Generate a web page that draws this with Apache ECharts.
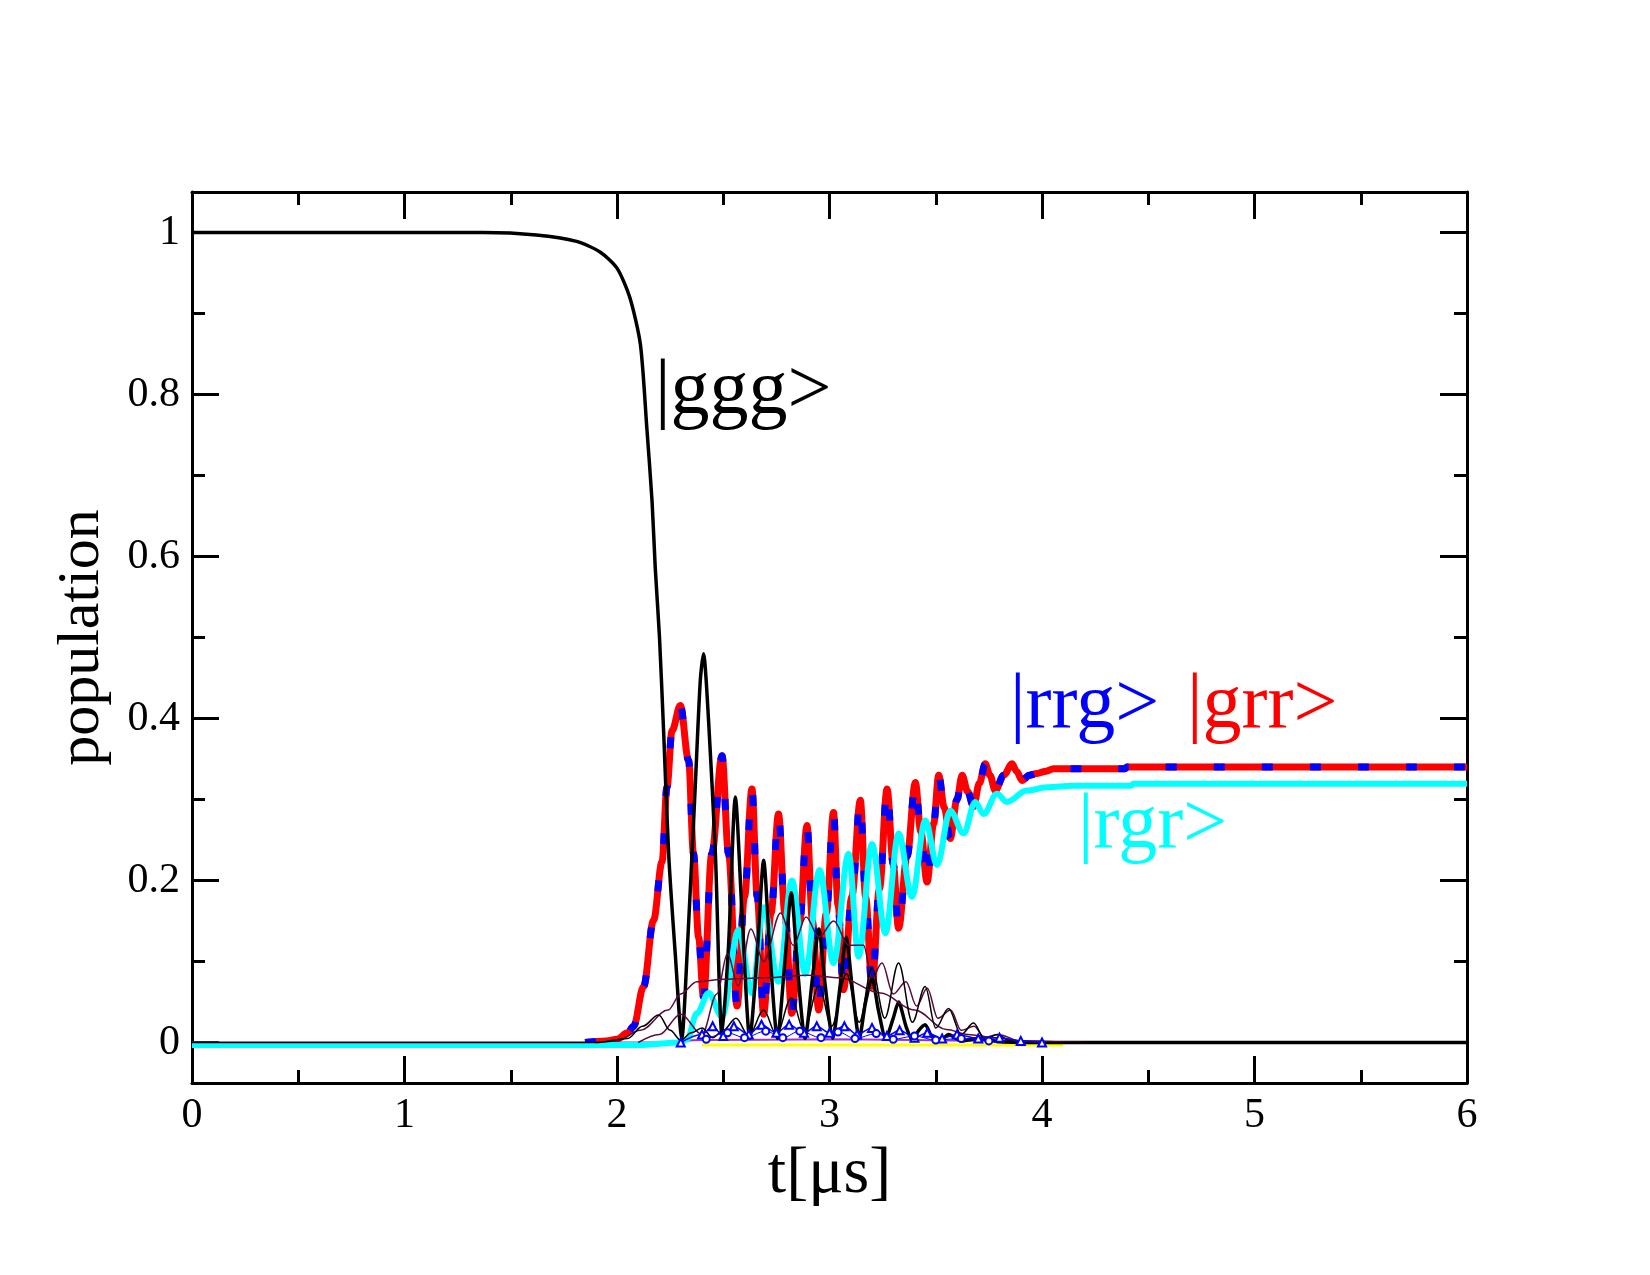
<!DOCTYPE html>
<html>
<head>
<meta charset="utf-8">
<title>population</title>
<script src="https://cdn.jsdelivr.net/npm/echarts@6.0.0/dist/echarts.min.js"></script>
<style>
  html, body { margin: 0; padding: 0; background: #fff; }
  #chart { width: 1650px; height: 1275px; }
</style>
</head>
<body>
<div id="chart"></div>
<script>
// tick values
var xTicks = [0, 1, 2, 3, 4, 5, 6];
var yMajor = [0, 0.2, 0.4, 0.6, 0.8, 1];
var yMinor = [0.1, 0.3, 0.5, 0.7, 0.9];

// |ggg> population
var ggg = [[0, 1], [0.5, 1], [1, 1], [1.37, 1], [1.62, 0.997], [1.81, 0.989], [1.92, 0.976], [2.0, 0.956],
  [2.06, 0.92], [2.11, 0.862], [2.14, 0.76], [2.165, 0.668], [2.18, 0.586], [2.2, 0.5], [2.22, 0.38],
  [2.243, 0.233], [2.274, 0.11], [2.305, 0.005], [2.33, 0.11], [2.368, 0.315], [2.392, 0.447], [2.407, 0.48],
  [2.431, 0.397], [2.463, 0.233], [2.494, 0.01], [2.525, 0.12], [2.557, 0.303], [2.59, 0.15], [2.625, 0.005],
  [2.66, 0.11], [2.69, 0.225], [2.72, 0.11], [2.755, 0.005], [2.79, 0.1], [2.82, 0.185], [2.85, 0.09],
  [2.885, 0.005], [2.92, 0.08], [2.95, 0.14], [2.98, 0.07], [3.015, 0.005], [3.05, 0.07], [3.078, 0.13],
  [3.11, 0.06], [3.14, 0.005], [3.17, 0.05], [3.2, 0.08], [3.23, 0.04], [3.265, 0.005], [3.3, 0.03],
  [3.325, 0.05], [3.36, 0.02], [3.39, 0.003], [3.42, 0.015], [3.45, 0.022], [3.48, 0.008], [3.52, 0.002],
  [3.56, 0.01], [3.62, 0.002], [3.7, 0.005], [3.8, 0.001], [4.0, 0], [6, 0]];

// |rrg> and |grr> lie on top of each other
var rrgGrr = [[1.85, 0], [1.95, 0.002], [2.0, 0.004], [2.05, 0.012], [2.078, 0.02], [2.125, 0.069], [2.172, 0.151],
  [2.212, 0.223], [2.235, 0.315], [2.259, 0.385], [2.298, 0.416], [2.337, 0.348], [2.36, 0.233], [2.384, 0.13],
  [2.407, 0.056], [2.446, 0.233], [2.494, 0.354], [2.525, 0.233], [2.565, 0.045], [2.6, 0.18], [2.635, 0.313],
  [2.66, 0.18], [2.69, 0.035], [2.725, 0.16], [2.76, 0.282], [2.79, 0.16], [2.823, 0.036], [2.86, 0.15],
  [2.894, 0.268], [2.92, 0.15], [2.949, 0.04], [2.985, 0.16], [3.019, 0.284], [3.04, 0.17], [3.066, 0.065],
  [3.105, 0.18], [3.145, 0.299], [3.17, 0.18], [3.2, 0.069], [3.235, 0.19], [3.271, 0.313], [3.3, 0.22],
  [3.325, 0.141], [3.365, 0.23], [3.404, 0.321], [3.43, 0.26], [3.459, 0.198], [3.49, 0.27], [3.514, 0.33],
  [3.54, 0.29], [3.568, 0.252], [3.6, 0.3], [3.624, 0.33], [3.65, 0.31], [3.678, 0.291], [3.705, 0.32],
  [3.733, 0.344], [3.755, 0.33], [3.78, 0.311], [3.82, 0.33], [3.859, 0.344], [3.88, 0.335], [3.906, 0.3235],
  [3.94, 0.33], [3.976, 0.332], [4.02, 0.335], [4.054, 0.338], [4.39, 0.338], [4.4, 0.34], [6, 0.34]];

// |rgr>
var rgr = [[0, -0.003], [2.1, -0.003], [2.3, 0], [2.33, 0.004], [2.376, 0.036], [2.431, 0.061], [2.494, 0.032],
  [2.572, 0.139], [2.635, 0.061], [2.69, 0.167], [2.76, 0.075], [2.823, 0.2], [2.886, 0.085], [2.953, 0.213],
  [3.019, 0.098], [3.09, 0.233], [3.137, 0.106], [3.2, 0.245], [3.263, 0.135], [3.325, 0.258], [3.388, 0.18],
  [3.451, 0.274], [3.506, 0.219], [3.568, 0.286], [3.631, 0.258], [3.686, 0.297], [3.725, 0.282],
  [3.788, 0.307], [3.835, 0.297], [3.929, 0.311], [4.023, 0.315], [4.149, 0.317], [4.42, 0.317],
  [4.43, 0.3195], [6, 0.3195]];

// small populations (thin lines)
var thinBlack = [[0, 0], [1.9, 0], [2.05, 0.005], [2.12, 0.02], [2.196, 0.034], [2.25, 0.015], [2.3, 0.003],
  [2.35, 0.012], [2.4, 0.018], [2.45, 0.006], [2.5, 0.015], [2.56, 0.03], [2.62, 0.008], [2.69, 0.04],
  [2.75, 0.01], [2.82, 0.055], [2.88, 0.015], [2.95, 0.07], [3.01, 0.02], [3.08, 0.085], [3.14, 0.025],
  [3.2, 0.092], [3.26, 0.03], [3.325, 0.098], [3.39, 0.025], [3.45, 0.069], [3.5, 0.018], [3.56, 0.042],
  [3.62, 0.01], [3.678, 0.024], [3.73, 0.004], [3.79, 0.01], [3.85, 0.002], [4.0, 0], [6, 0]];
var maroonBroad = [[1.9, 0], [2.0, 0.002], [2.11, 0.015], [2.24, 0.04], [2.3, 0.06], [2.376, 0.075],
  [2.5, 0.078], [2.7, 0.08], [2.9, 0.083], [3.05, 0.08], [3.24, 0.061], [3.4, 0.04], [3.55, 0.016],
  [3.65, 0.01], [3.78, 0.006], [3.9, 0.002], [4.1, 0]];
var maroonOsc = [[2.1, 0], [2.2, 0.01], [2.3, 0.035], [2.4, 0.01], [2.47, 0.06], [2.52, 0.11], [2.57, 0.07],
  [2.63, 0.14], [2.69, 0.1], [2.77, 0.16], [2.83, 0.12], [2.89, 0.155], [2.95, 0.13], [3.02, 0.15],
  [3.09, 0.12], [3.16, 0.12], [3.2, 0.08], [3.247, 0.098], [3.3, 0.06], [3.36, 0.075], [3.41, 0.045],
  [3.46, 0.067], [3.51, 0.03], [3.57, 0.04], [3.62, 0.015], [3.68, 0.02], [3.73, 0.006], [3.79, 0.01],
  [3.9, 0.002], [4.2, 0]];
var blueTri = [[2.3, 0], [2.4, 0.01], [2.45, 0.02], [2.5, 0.008], [2.55, 0.02], [2.62, 0.01], [2.68, 0.022],
  [2.75, 0.012], [2.81, 0.022], [2.88, 0.012], [2.94, 0.02], [3.0, 0.012], [3.07, 0.02], [3.13, 0.01],
  [3.2, 0.018], [3.27, 0.008], [3.33, 0.015], [3.4, 0.006], [3.46, 0.012], [3.53, 0.005], [3.6, 0.01],
  [3.7, 0.005], [3.8, 0.006], [3.9, 0.002], [4.0, 0]];
var blueCirc = [[2.42, 0.004], [2.52, 0.012], [2.6, 0.006], [2.7, 0.014], [2.78, 0.006], [2.86, 0.014],
  [2.96, 0.006], [3.04, 0.013], [3.12, 0.005], [3.22, 0.011], [3.3, 0.004], [3.4, 0.008], [3.5, 0.003],
  [3.62, 0.005], [3.75, 0.002]];
var purple = [[0, 0], [2.2, 0], [2.4, 0.003], [3.0, 0.004], [3.8, 0.002], [4.2, 0], [6, 0]];
var yellow = [[2.4, -0.003], [4.1, -0.003]];

var serif = 'Liberation Serif, Times New Roman, serif';

var myChart = echarts.init(document.getElementById('chart'), null, { renderer: 'canvas' });

function line(data, color, width, extra) {
  var s = {
    type: 'line',
    data: data,
    showSymbol: false,
    smooth: 0.35,
    smoothMonotone: 'x',
    animation: false,
    silent: true,
    lineStyle: { color: color, width: width }
  };
  for (var k in extra) s[k] = extra[k];
  return s;
}

function tickStyle(len) {
  return { show: true, inside: true, length: len, lineStyle: { color: '#000', width: 3 } };
}

var xBase = {
  type: 'value', min: 0, max: 6, interval: 1,
  axisLine: { onZero: false, lineStyle: { color: '#000', width: 3 } },
  axisTick: tickStyle(27),
  minorTick: { show: true, splitNumber: 2, length: 13, lineStyle: { color: '#000', width: 3 } },
  splitLine: { show: false },
  minorSplitLine: { show: false }
};

myChart.setOption({
  backgroundColor: '#fff',
  animation: false,
  grid: { left: 192, top: 192, width: 1275, height: 891, containLabel: false },
  xAxis: [
    Object.assign({}, xBase, {
      position: 'bottom',
      axisLabel: { color: '#000', fontSize: 42, fontFamily: serif, margin: 12 },
      name: 't[μs]',
      nameLocation: 'middle',
      nameGap: 48,
      nameTextStyle: { color: '#000', fontSize: 66, fontFamily: serif }
    }),
    Object.assign({}, xBase, { position: 'top', axisLabel: { show: false } })
  ],
  yAxis: [
    {
      type: 'value', min: -0.05, max: 1.05, position: 'left',
      axisLine: { onZero: false, lineStyle: { color: '#000', width: 3 } },
      axisTick: Object.assign(tickStyle(27), { customValues: yMajor }),
      axisLabel: { customValues: yMajor, color: '#000', fontSize: 42, fontFamily: serif, margin: 12 },
      splitLine: { show: false },
      name: 'population',
      nameLocation: 'middle',
      nameGap: 80,
      nameTextStyle: { color: '#000', fontSize: 60, fontFamily: serif }
    },
    {
      type: 'value', min: -0.05, max: 1.05, position: 'left',
      axisLine: { show: false, onZero: false },
      axisTick: Object.assign(tickStyle(13), { customValues: yMinor }),
      axisLabel: { show: false },
      splitLine: { show: false }
    },
    {
      type: 'value', min: -0.05, max: 1.05, position: 'right',
      axisLine: { onZero: false, lineStyle: { color: '#000', width: 3 } },
      axisTick: Object.assign(tickStyle(27), { customValues: yMajor }),
      axisLabel: { show: false },
      splitLine: { show: false }
    },
    {
      type: 'value', min: -0.05, max: 1.05, position: 'right',
      axisLine: { show: false, onZero: false },
      axisTick: Object.assign(tickStyle(13), { customValues: yMinor }),
      axisLabel: { show: false },
      splitLine: { show: false }
    }
  ],
  series: [
    line(yellow, '#ffff00', 3, { z: 2 }),
    line(purple, '#9b30d0', 2, { z: 2 }),
    line(rrgGrr, '#ff0000', 7, { z: 3 }),
    line(rrgGrr, '#0000ff', 7, { z: 4, lineStyle: { color: '#0000ff', width: 7, type: [11, 37] } }),
    line(rgr, '#00ffff', 6, { z: 5 }),
    line(ggg, '#000000', 3.5, { z: 6, smooth: 0.25, smoothMonotone: null }),
    line(maroonBroad, '#5c0a3e', 1.5, { z: 7 }),
    line(maroonOsc, '#5c0a3e', 1.5, { z: 7 }),
    line(thinBlack, '#000000', 1.5, { z: 7 }),
    line(blueTri, '#0000ff', 1.5, { z: 8, showSymbol: true, symbol: 'emptyTriangle', symbolSize: 8,
      itemStyle: { color: '#0000ff', borderWidth: 1 } }),
    line(blueCirc, '#0000ff', 1, { z: 8, showSymbol: true, symbol: 'emptyCircle', symbolSize: 7,
      itemStyle: { color: '#0000ff', borderWidth: 1 } })
  ],
  graphic: [
    { type: 'text', left: 655, top: 354, style: { text: '|ggg>', fill: '#000', font: '78px ' + serif } },
    { type: 'text', left: 1010, top: 668, style: { text: '|rrg>', fill: '#0000ff', font: '78px ' + serif } },
    { type: 'text', left: 1187, top: 668, style: { text: '|grr>', fill: '#ff0000', font: '78px ' + serif } },
    { type: 'text', left: 1078, top: 788, style: { text: '|rgr>', fill: '#00ffff', font: '78px ' + serif } }
  ]
});
</script>
</body>
</html>
